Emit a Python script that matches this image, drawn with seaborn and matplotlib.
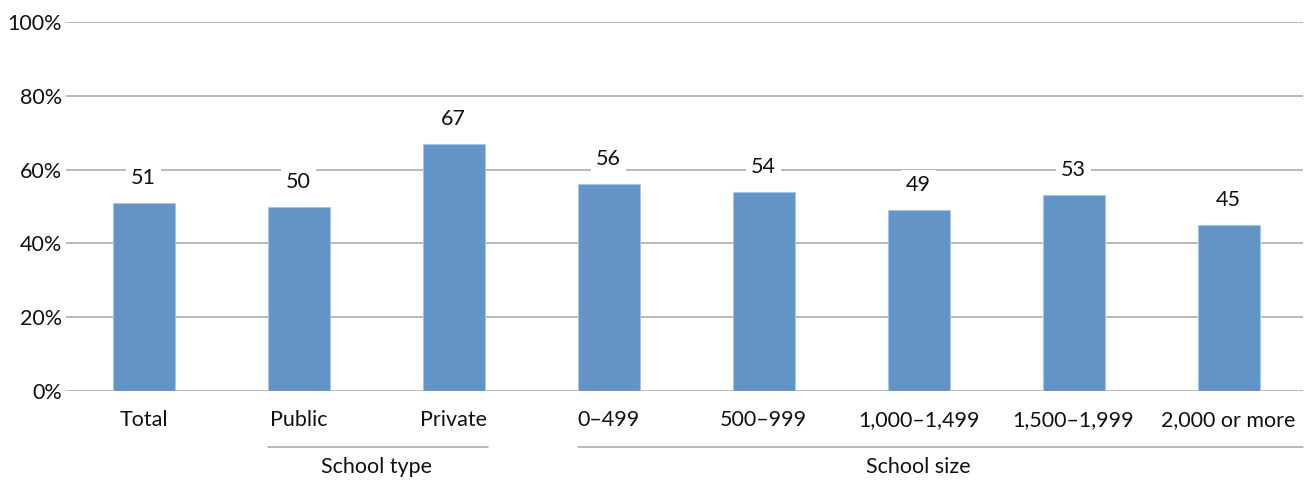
import matplotlib
matplotlib.use("Agg")
import matplotlib.pyplot as plt
import matplotlib.transforms as mtransforms
import seaborn as sns
import pandas as pd

categories = ["Total", "Public", "Private", "0–499", "500–999", "1,000–1,499", "1,500–1,999", "2,000 or more"]
values = [51, 50, 67, 56, 54, 49, 53, 45]
yticks = [0, 20, 40, 60, 80, 100]
ytick_labels = ["0%", "20%", "40%", "60%", "80%", "100%"]
groups = [("School type", 1, 2), ("School size", 3, 7)]

sns.set_theme(style="white")
plt.rcParams["font.family"] = ["Lato", "DejaVu Sans"]

df = pd.DataFrame({"cat": categories, "val": values})

fig = plt.figure(figsize=(13.12, 4.8), dpi=100)
ax = fig.add_axes([66 / 1312, 1 - 391 / 480, (1303 - 66) / 1312, 369 / 480])

grid_color = "#a6a6a6"
fs = 15.5
for t in yticks:
    ax.axhline(t, color=grid_color, lw=1.1, zorder=0)

sns.barplot(data=df, x="cat", y="val", color="#6394c8", width=0.4, saturation=1,
            edgecolor="#a9c4e4", linewidth=0.8, ax=ax, zorder=2)

for i, v in enumerate(values):
    ax.annotate(f"{v}", (i, v), xytext=(0, 18), textcoords="offset points",
                ha="center", va="center", fontsize=fs, color="#111111",
                bbox=dict(boxstyle="square,pad=0.25", fc="white", ec="none"), zorder=3)

ax.set_ylim(0, 100)
ax.set_xlim(-0.5, 7.48)
ax.set_yticks(yticks)
ax.set_yticklabels(ytick_labels)
ax.set_xlabel("")
ax.set_ylabel("")
ax.tick_params(axis="both", length=0, labelsize=fs, colors="#111111")
ax.tick_params(axis="x", pad=14)
ax.tick_params(axis="y", pad=3)
for s in ax.spines.values():
    s.set_visible(False)

trans = mtransforms.blended_transform_factory(ax.transData, ax.transAxes)
line_y = (391 - 447) / 369
text_y = (391 - 467) / 369
for name, a, b in groups:
    x0 = a - 0.194
    x1 = b + 0.22 if b < 7 else 7.48
    ax.plot([x0, x1], [line_y, line_y], color=grid_color, lw=1.1, transform=trans, clip_on=False)
    ax.text((a + b) / 2, text_y, name, transform=trans, ha="center", va="center",
            fontsize=fs, color="#111111")

fig.savefig("out.png", dpi=100)
